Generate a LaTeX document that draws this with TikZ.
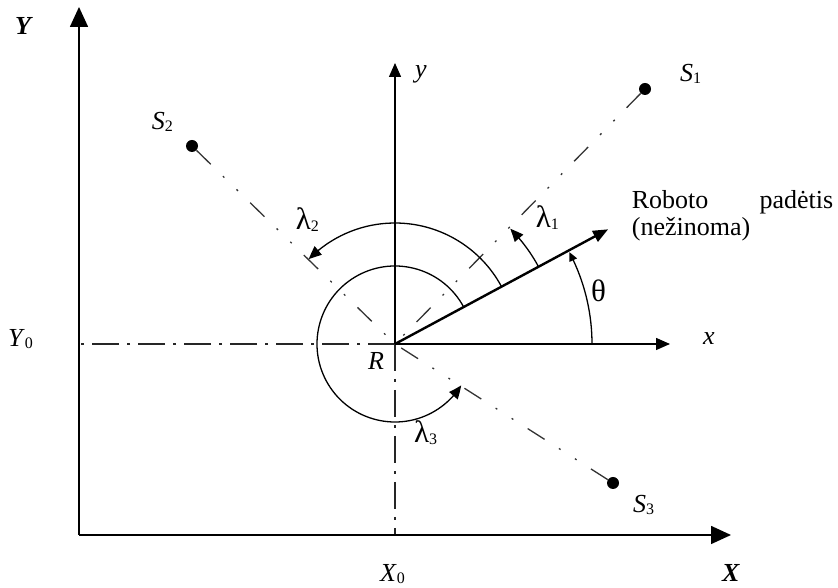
\documentclass[tikz,border=0pt]{standalone}
\usepackage{fontspec}
\setmainfont{Liberation Serif}
\usetikzlibrary{arrows.meta,bending}
\newcommand\dsub[1]{\raisebox{-2pt}{\fontsize{16}{16}\selectfont #1}}
\newcommand\grk[1]{{\fontsize{31}{31}\selectfont #1}}
\begin{document}
\begin{tikzpicture}[x=1pt,y=1pt,
  lbl/.style={inner sep=0pt, anchor=base west, font=\fontsize{26}{27}\selectfont},
  bigaxis/.style={line width=1.6pt, -{Triangle[length=20pt,width=18pt]}},
  laxis/.style={line width=1.4pt, -{Triangle[length=14pt,width=12pt]}},
  dashdot/.style={line width=1.3pt, black!85, dash pattern=on 27pt off 8pt on 3pt off 8pt},
  sline/.style={line width=1.3pt, black!80, dash pattern=on 20pt off 17pt on 2pt off 17pt on 2pt off 17pt},
  arcarrow/.style={line width=1.3pt, -{Triangle[length=13pt,width=11pt,bend]}},
  smallarc/.style={line width=1.3pt, -{Triangle[length=9pt,width=8pt,bend]}},
  heading/.style={line width=2.4pt, -{Triangle[length=15pt,width=12pt]}},
  sdot/.style={circle, fill, inner sep=0pt, minimum size=12pt}
]
\useasboundingbox (0,0) rectangle (838,588);
\coordinate (O) at (79,53);
\coordinate (Ytip) at (79,581);
\coordinate (Xtip) at (731,53);
\coordinate (R) at (395,244);
\coordinate (yt) at (395,525);
\coordinate (xt) at (670,244);
\coordinate (Y0) at (79,244);
\coordinate (X0) at (395,53);
\coordinate (H) at (608.1,358.7);
\node[sdot] (S1) at (645,499) {};
\node[sdot] (S2) at (192,442) {};
\node[sdot] (S3) at (613,105) {};

% dash-dot reference lines
\draw[dashdot] (R) -- (Y0);
\draw[dashdot] (R) -- (X0);
\draw[sline] (S1) -- (R);
\draw[sline] (S2) -- (R);
\draw[sline] (S3) -- (R);

% global axes
\draw[bigaxis] (O) -- (Ytip);
\draw[bigaxis] (O) -- (Xtip);

% local axes
\draw[laxis] (R) -- (yt);
\draw[laxis] (R) -- (xt);

% heading
\draw[heading] (R) -- (H);

% angle arcs
\draw[smallarc] ([shift={(0:197)}]R) arc[start angle=0, end angle=27.8, radius=197];
\draw[arcarrow] ([shift={(28.3:163)}]R) arc[start angle=28.3, end angle=45, radius=163];
\draw[arcarrow] ([shift={(28.3:121)}]R) arc[start angle=28.3, end angle=135.5, radius=121];
\draw[arcarrow] ([shift={(28.3:78)}]R) arc[start angle=28.3, end angle=328, radius=78];

% labels
\node[lbl, font=\fontsize{26}{27}\selectfont\bfseries\itshape] (Ylab) at (15,553) {Y};
\node[lbl] (Y0lab) at (8,241) {\textit{Y}\dsub{0}};
\node[lbl] (X0lab) at (380,6) {\textit{X}\dsub{0}};
\node[lbl, font=\fontsize{26}{27}\selectfont\bfseries\itshape] (Xlab) at (722,6) {X};
\node[lbl] (S1lab) at (680,506) {\textit{S}\dsub{1}};
\node[lbl] (S2lab) at (151.7,458) {\textit{S}\dsub{2}};
\node[lbl] (S3lab) at (633,75) {\textit{S}\dsub{3}};
\node[lbl] (xlab) at (703,243) {\textit{x}};
\node[lbl] (ylab) at (415,510) {\textit{y}};
\node[lbl] (Rlab) at (368,218) {\textit{R}};
\node[lbl] (thlab) at (591,286) {\grk{θ}};
\node[lbl] (l1lab) at (535.7,360) {\grk{λ}\dsub{1}};
\node[lbl] (l2lab) at (295.7,358) {\grk{λ}\dsub{2}};
\node[lbl] (l3lab) at (414,145) {\grk{λ}\dsub{3}};
\node[inner sep=0pt, anchor=north west, text width=201.3pt, align=left,
  font=\fontsize{26}{27}\selectfont] (pos) at (631.7,397.5)
  {Roboto\hfill padėtis\\(nežinoma)};
\end{tikzpicture}
\end{document}
